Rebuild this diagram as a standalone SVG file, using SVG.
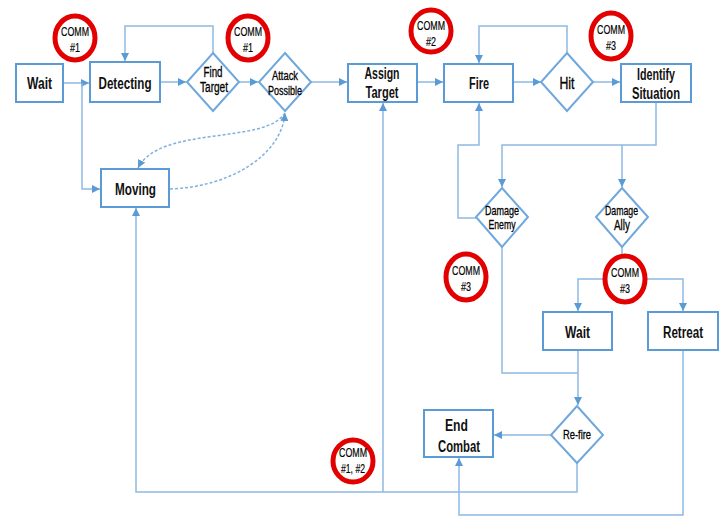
<svg xmlns="http://www.w3.org/2000/svg" width="723" height="517" viewBox="0 0 723 517">
<style>
.box{fill:#fff;stroke:#5B9BD5;stroke-width:2}
.dia{fill:#fff;stroke:#6FA8DC;stroke-width:2}
.c{fill:none;stroke:#8DBAE2;stroke-width:1.5}
.d{fill:none;stroke:#7FB1DF;stroke-width:1.5;stroke-dasharray:3 2}
.comm{fill:#fff;stroke:#E30000;stroke-width:5}
.t{font-family:"Liberation Sans",Arial,sans-serif;font-weight:bold;font-size:16px;fill:#111;text-anchor:middle}
.s{font-family:"Liberation Sans",Arial,sans-serif;font-size:13px;fill:#000;text-anchor:middle;stroke:#000;stroke-width:0.3}
.ct{font-family:"Liberation Sans",Arial,sans-serif;font-size:13px;fill:#000;text-anchor:middle;stroke:#000;stroke-width:0.2}
</style>
<defs>
<marker id="ar" markerUnits="userSpaceOnUse" markerWidth="9" markerHeight="8" refX="8" refY="4" orient="auto">
<path d="M0,0 L8,4 L0,8 Z" fill="#5B9BD5"/>
</marker>
</defs>
<rect width="723" height="517" fill="#fff"/>
<g id="connectors">
<path class="c" d="M63,83 H89" marker-end="url(#ar)"/>
<path class="c" d="M82,83 V189 H100" marker-end="url(#ar)"/>
<path class="c" d="M160,82 H186" marker-end="url(#ar)"/>
<path class="c" d="M239,82 H258" marker-end="url(#ar)"/>
<path class="c" d="M311,82 H347" marker-end="url(#ar)"/>
<path class="c" d="M213,53 V26 H125 V61" marker-end="url(#ar)"/>
<path class="d" d="M285,113 C265,145 160,125 138,168" marker-end="url(#ar)"/>
<path class="d" d="M170,189 C230,187 282,155 285,113" marker-end="url(#ar)"/>
<path class="c" d="M417,82 H443" marker-end="url(#ar)"/>
<path class="c" d="M513,82 H541" marker-end="url(#ar)"/>
<path class="c" d="M593,82 H620" marker-end="url(#ar)"/>
<path class="c" d="M567,53 V26 H479 V63" marker-end="url(#ar)"/>
<path class="c" d="M656,102 V145 H502 V187" marker-end="url(#ar)"/>
<path class="c" d="M622,145 V187" marker-end="url(#ar)"/>
<path class="c" d="M476,218 H458 V145 H479 V103" marker-end="url(#ar)"/>
<path class="c" d="M622,247 V279"/>
<path class="c" d="M622,279 H578 V311" marker-end="url(#ar)"/>
<path class="c" d="M622,279 H683 V311" marker-end="url(#ar)"/>
<path class="c" d="M502,247 V373 H578"/>
<path class="c" d="M578,350 V405" marker-end="url(#ar)"/>
<path class="c" d="M551,435 H494" marker-end="url(#ar)"/>
<path class="c" d="M577,463 V492 H136 V208" marker-end="url(#ar)"/>
<path class="c" d="M383,492 V103" marker-end="url(#ar)"/>
<path class="c" d="M683,350 V515 H459 V458" marker-end="url(#ar)"/>
</g>
<g id="wait1"><rect class="box" x="16" y="64" width="47" height="38"/><text class="t" x="39.5" y="89" textLength="25" lengthAdjust="spacingAndGlyphs">Wait</text></g>
<g id="detecting"><rect class="box" x="90" y="62" width="70" height="40"/><text class="t" x="125" y="89" textLength="53" lengthAdjust="spacingAndGlyphs">Detecting</text></g>
<g id="findTarget"><polygon class="dia" points="213,53 239,82 213,111 187,82"/><text class="s" x="213" y="77" style="font-size:14px" textLength="19" lengthAdjust="spacingAndGlyphs">Find</text><text class="s" x="214" y="92" style="font-size:14px" textLength="28" lengthAdjust="spacingAndGlyphs">Target</text></g>
<g id="attackPossible"><polygon class="dia" points="285,53 311,82 285,111 259,82"/><text class="s" x="285" y="80" style="font-size:12px" textLength="26" lengthAdjust="spacingAndGlyphs">Attack</text><text class="s" x="285" y="95" style="font-size:12px" textLength="34" lengthAdjust="spacingAndGlyphs">Possible</text></g>
<g id="assignTarget"><rect class="box" x="348" y="64" width="69" height="38"/><text class="t" x="382" y="79" textLength="35" lengthAdjust="spacingAndGlyphs">Assign</text><text class="t" x="382" y="98" textLength="33" lengthAdjust="spacingAndGlyphs">Target</text></g>
<g id="fire"><rect class="box" x="444" y="64" width="69" height="38"/><text class="t" x="479" y="89" textLength="20" lengthAdjust="spacingAndGlyphs">Fire</text></g>
<g id="hit"><polygon class="dia" points="567,53 593,82 567,111 541,82"/><text class="s" x="567" y="89" style="font-size:16px" textLength="15" lengthAdjust="spacingAndGlyphs">Hit</text></g>
<g id="identify"><rect class="box" x="621" y="64" width="70" height="38"/><text class="t" x="656" y="80" textLength="38" lengthAdjust="spacingAndGlyphs">Identify</text><text class="t" x="656" y="99" textLength="48" lengthAdjust="spacingAndGlyphs">Situation</text></g>
<g id="moving"><rect class="box" x="101" y="169" width="68" height="38"/><text class="t" x="135.5" y="195" textLength="41" lengthAdjust="spacingAndGlyphs">Moving</text></g>
<g id="damageEnemy"><polygon class="dia" points="502,188 528,217 502,247 476,217"/><text class="s" x="502" y="215" textLength="34" lengthAdjust="spacingAndGlyphs">Damage</text><text class="s" x="502" y="229" textLength="27" lengthAdjust="spacingAndGlyphs">Enemy</text></g>
<g id="damageAlly"><polygon class="dia" points="622,188 648,217 622,247 596,217"/><text class="s" x="621.5" y="215" textLength="33" lengthAdjust="spacingAndGlyphs">Damage</text><text class="s" x="622" y="230" style="font-size:14px" textLength="16" lengthAdjust="spacingAndGlyphs">Ally</text></g>
<g id="wait2"><rect class="box" x="543" y="312" width="69" height="38"/><text class="t" x="577.5" y="338" textLength="25" lengthAdjust="spacingAndGlyphs">Wait</text></g>
<g id="retreat"><rect class="box" x="648" y="312" width="70" height="38"/><text class="t" x="683" y="338" textLength="40" lengthAdjust="spacingAndGlyphs">Retreat</text></g>
<g id="refire"><polygon class="dia" points="577,406 603,435 577,463 551,435"/><text class="s" x="577" y="439" textLength="28" lengthAdjust="spacingAndGlyphs">Re-fire</text></g>
<g id="endCombat"><rect class="box" x="424" y="410" width="69" height="47"/><text class="t" x="456.5" y="431" textLength="23" lengthAdjust="spacingAndGlyphs">End</text><text class="t" x="459" y="452" textLength="42" lengthAdjust="spacingAndGlyphs">Combat</text></g>
<g id="comm1a"><ellipse class="comm" cx="75" cy="38" rx="20" ry="22"/><text class="ct" x="75" y="36" textLength="28" lengthAdjust="spacingAndGlyphs">COMM</text><text class="ct" x="75" y="52" textLength="10" lengthAdjust="spacingAndGlyphs">#1</text></g>
<g id="comm1b"><ellipse class="comm" cx="248" cy="38" rx="20" ry="22"/><text class="ct" x="248" y="36" textLength="28" lengthAdjust="spacingAndGlyphs">COMM</text><text class="ct" x="248" y="52" textLength="10" lengthAdjust="spacingAndGlyphs">#1</text></g>
<g id="comm2"><ellipse class="comm" cx="431" cy="31" rx="20" ry="21"/><text class="ct" x="431" y="30" textLength="28" lengthAdjust="spacingAndGlyphs">COMM</text><text class="ct" x="431" y="46" textLength="10" lengthAdjust="spacingAndGlyphs">#2</text></g>
<g id="comm3a"><ellipse class="comm" cx="611" cy="36" rx="20" ry="23"/><text class="ct" x="611" y="34" textLength="28" lengthAdjust="spacingAndGlyphs">COMM</text><text class="ct" x="611" y="50" textLength="10" lengthAdjust="spacingAndGlyphs">#3</text></g>
<g id="comm3b"><ellipse class="comm" cx="466" cy="277" rx="20" ry="23"/><text class="ct" x="466" y="275" textLength="28" lengthAdjust="spacingAndGlyphs">COMM</text><text class="ct" x="466" y="291" textLength="10" lengthAdjust="spacingAndGlyphs">#3</text></g>
<g id="comm3c"><ellipse class="comm" cx="625" cy="279" rx="20" ry="23"/><text class="ct" x="625" y="277" textLength="28" lengthAdjust="spacingAndGlyphs">COMM</text><text class="ct" x="625" y="293" textLength="10" lengthAdjust="spacingAndGlyphs">#3</text></g>
<g id="comm12"><ellipse class="comm" cx="353" cy="461" rx="20" ry="21"/><text class="ct" x="353" y="457" textLength="28" lengthAdjust="spacingAndGlyphs">COMM</text><text class="ct" x="353" y="473" textLength="24" lengthAdjust="spacingAndGlyphs">#1, #2</text></g>
</svg>
